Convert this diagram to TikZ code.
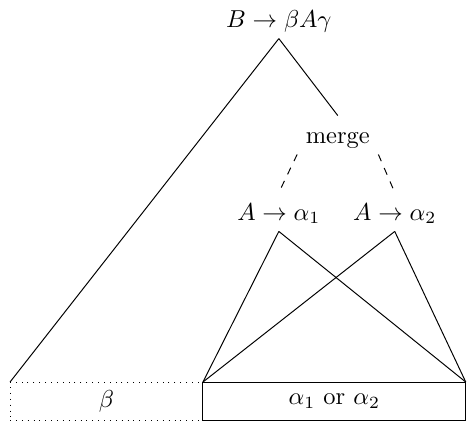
\documentclass[tikz,border=0pt]{standalone}
\usetikzlibrary{positioning}

\begin{document}
\begin{tikzpicture}[
      lbl/.style={anchor=base, text height=1.8ex, text depth=.25ex},
      part/.style={inner sep=0pt, outer sep=0pt, minimum height=0.545cm}
   ]
      \useasboundingbox (0,0) rectangle (6.72,6.06);

      \node[lbl] (B) at (4.004,5.668) {$B \to \beta A\gamma$};
      \node[lbl] (M) at (4.850,4.004) {merge};
      \node[lbl] (A1) at (4.004,2.899) {$A \to \alpha_1$};
      \node[lbl] (A2) at (5.668,2.899) {$A \to \alpha_2$};

      \node[part, draw, dotted, minimum width=2.77cm, anchor=south west] (beta) at (0.144,0.029) {$\beta$};
      \node[part, draw, minimum width=3.774cm, right=0pt of beta] (alpha) {$\alpha_1$ or $\alpha_2$};

      \draw (B.south) -- (beta.north west);
      \draw (B.south) -- (M.north);
      \draw[dashed] (M.south west) -- (A1.north);
      \draw[dashed] (M.south east) -- (A2.north);
      \draw (A1.south) -- (alpha.north west);
      \draw (A1.south) -- (alpha.north east);
      \draw (A2.south) -- (alpha.north west);
      \draw (A2.south) -- (alpha.north east);
   \end{tikzpicture}
\end{document}
